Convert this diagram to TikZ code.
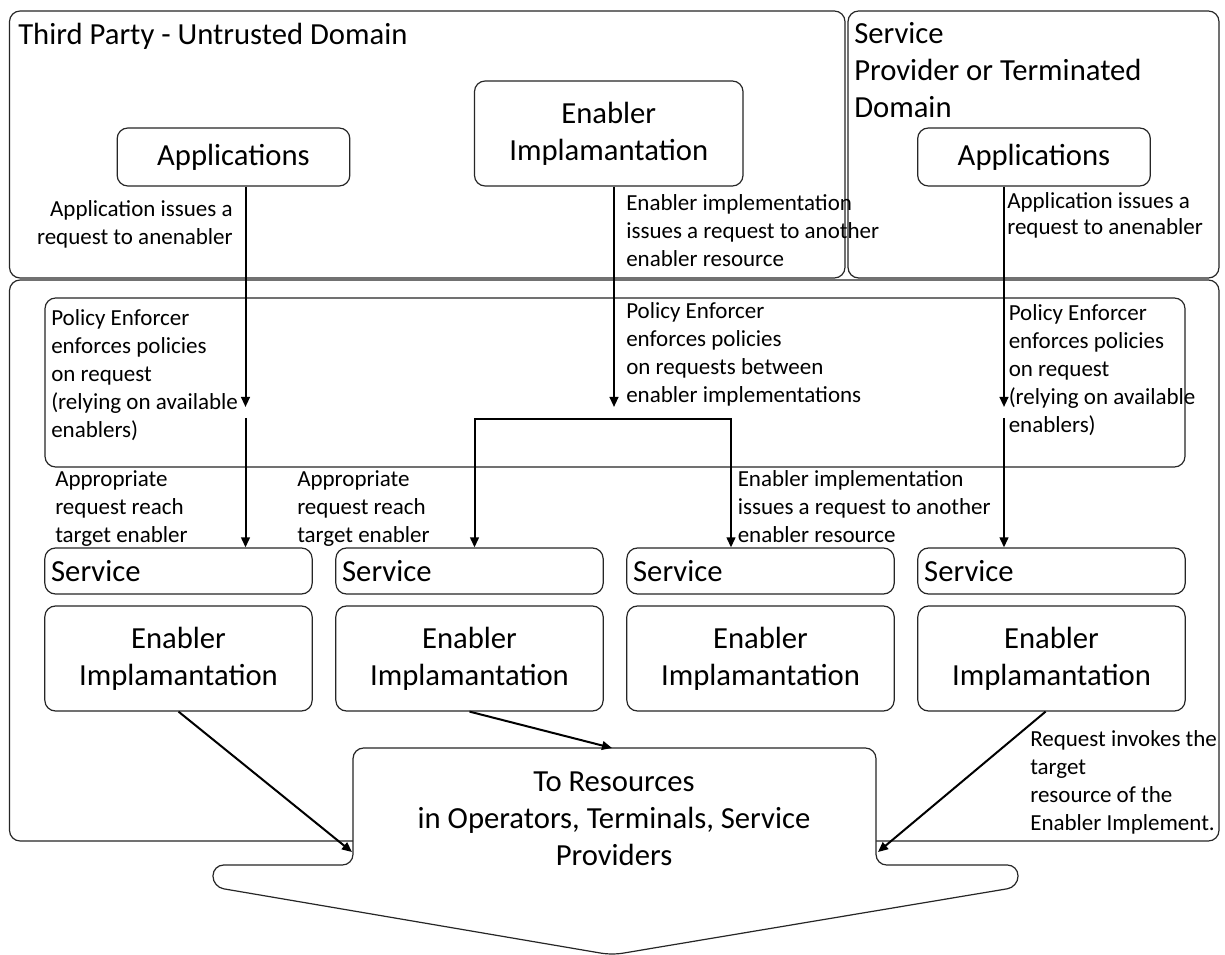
\documentclass[tikz,border=0pt]{standalone}
\usepackage{fontspec}
\setmainfont{Carlito}
\usetikzlibrary{arrows.meta,fit}
\newcommand\bigfnt{\fontsize{23pt}{27.75pt}\selectfont}
\newcommand\smallfnt{\fontsize{17.25pt}{21pt}\selectfont}
\newcommand\tightfnt{\fontsize{17.25pt}{19.5pt}\selectfont}
\begin{document}
\begin{tikzpicture}[x=0.75pt,y=-0.75pt,
  frame/.style={draw=black!85, line width=0.9pt, rounded corners=8pt},
  box/.style={frame, inner sep=0pt, align=center, font=\bigfnt},
  appbox/.style={box, minimum width=174.5pt, minimum height=43.5pt},
  svcbox/.style={frame, inner sep=0pt, align=left, text width=191pt, font=\bigfnt,
    minimum width=200.5pt, minimum height=34.5pt},
  enbox/.style={box, minimum width=200.5pt, minimum height=78.75pt},
  note/.style={inner sep=0pt, font=\smallfnt, anchor=base west, align=left},
  title/.style={inner sep=0pt, font=\bigfnt, anchor=base west, align=left},
  arr/.style={line width=1.5pt, -{Triangle[length=7.5pt,width=6.5pt]}},
  arrboth/.style={line width=1.5pt, {Triangle[length=7.5pt,width=6.5pt]}-{Triangle[length=7.5pt,width=6.5pt]}}]

\path[use as bounding box, fill=white] (0,0) rectangle (1225,955);

% domains
\node[frame, inner sep=0pt, fit={(9.5,11) (845,278)}] (tpd) {};
\node[frame, inner sep=0pt, fit={(848,11) (1219,278)}] (spd) {};
\node[frame, inner sep=0pt, fit={(9.5,280) (1219,841)}] (core) {};
\node[frame, inner sep=0pt, fit={(45,298) (1185,467)}] (pol) {};

% titles (anchored at the baseline of their last line)
\node[title] (tpdtitle) at (18,45) {Third Party - Untrusted Domain};
\node[title] (spdtitle) at (854,118) {Service\\Provider or Terminated\\Domain};

% top row
\node[appbox] (app1) at (233.5,157) {Applications};
\node[box, minimum width=201.4pt, minimum height=78.75pt] (encap) at (608.75,133.5) {Enabler\\Implamantation};
\node[appbox] (app2) at (1034,157) {Applications};

% services and enabler implementations
\node[svcbox] (svc1) at (178.5,571) {Service};
\node[svcbox] (svc2) at (469.5,571) {Service};
\node[svcbox] (svc3) at (760.5,571) {Service};
\node[svcbox] (svc4) at (1051.5,571) {Service};

\node[enbox] (en1) at (178.5,658.5) {Enabler\\Implamantation};
\node[enbox] (en2) at (469.5,658.5) {Enabler\\Implamantation};
\node[enbox] (en3) at (760.5,658.5) {Enabler\\Implamantation};
\node[enbox] (en4) at (1051.5,658.5) {Enabler\\Implamantation};

% resources callout
\draw[frame, fill=white] (353,748) -- (876,748) -- (876,865) -- (1018,865)
  -- (1018,887) -- (612,955) -- (213,887) -- (213,865) -- (353,865) -- cycle;
\node[inner sep=0pt, font=\bigfnt, align=center, anchor=base] (restext) at (614,865)
  {To Resources\\in Operators, Terminals, Service\\Providers};
\coordinate (resl) at (352,852);
\coordinate (resr) at (878,852);
\coordinate (rest) at (612,748);

% notes (anchored at the baseline of their last line)
\node[note, anchor=base east, align=right] (n1) at (233,245) {Application issues a\\request to anenabler};
\node[note] (n2) at (626,267) {Enabler implementation\\issues a request to another\\enabler resource};
\node[note, font=\tightfnt] (n3) at (1007,235) {Application issues a\\request to anenabler};
\node[note] (n4) at (51,438) {Policy Enforcer\\enforces policies\\on request\\(relying on available\\enablers)};
\node[note] (n5) at (626,403) {Policy Enforcer\\enforces policies\\on requests between\\enabler implementations};
\node[note] (n6) at (1008.5,433) {Policy Enforcer\\enforces policies\\on request\\(relying on available\\enablers)};
\node[note] (n7) at (55,542) {Appropriate\\request reach\\target enabler};
\node[note] (n8) at (297,542) {Appropriate\\request reach\\target enabler};
\node[note] (n9) at (737.5,542) {Enabler implementation\\issues a request to another\\enabler resource};
\node[note] (n10) at (1030,830) {Request invokes the\\target\\resource of the\\Enabler Implement.};

% request flow
\coordinate (p1) at (245.5,407); \coordinate (q1) at (245.5,418);
\coordinate (p2) at (614,407);
\coordinate (p3) at (1004,407);  \coordinate (q3) at (1004,418);
\coordinate (jl) at (474.5,419); \coordinate (jr) at (731,419);

\draw[arr] (app1.south -| p1) -- (p1);
\draw[arr] (q1) -- (q1 |- svc1.north);
\draw[arr] (encap.south -| p2) -- (p2);
\draw[arrboth] (jl |- svc2.north) -- (jl) -- (jr) -- (jr |- svc3.north);
\draw[arr] (app2.south -| p3) -- (p3);
\draw[arr] (q3) -- (q3 |- svc4.north);

\draw[arr] (en1.south) -- (resl);
\draw[arr] (en2.south) -- (rest);
\draw[arr] (en4.south -| 1045.6,0) -- (resr);
\end{tikzpicture}
\end{document}
